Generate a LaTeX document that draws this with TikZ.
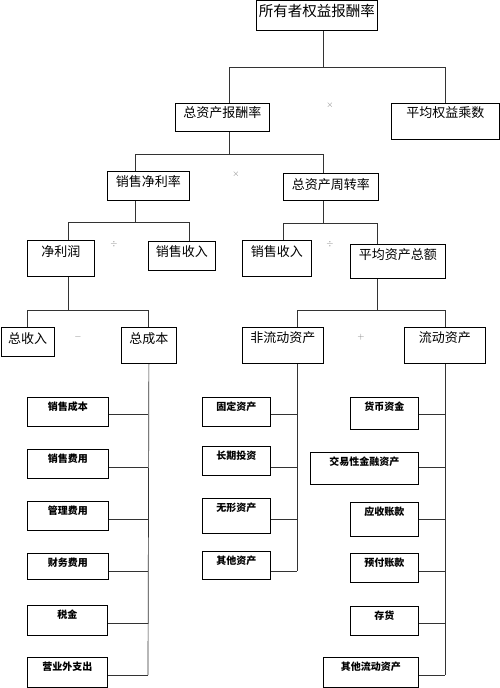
\documentclass[tikz,border=0pt]{standalone}
\usepackage{fontspec}
\setmainfont{Noto Sans CJK SC}
\begin{document}
\begin{tikzpicture}[x=1pt,y=-1pt,
  bx/.style={draw=black, line width=0.8pt, inner sep=0pt, anchor=north west},
  topf/.style={font=\fontsize{14.5}{14.5}\selectfont, text height=16pt},
  big/.style={font=\fontsize{13}{13}\selectfont},
  bigbox/.style n args={3}{bx, big, minimum width=#1, text height=#2, text depth=#3},
  sbox/.style 2 args={bx, font=\bfseries\fontsize{10}{10}\selectfont, text height=13.3pt, minimum width=#1, text depth=#2},
  ln/.style={draw=black!80, line width=0.7pt},
  op/.style={text=black!50, inner sep=0pt, font=\fontsize{9}{9}\selectfont}]
\useasboundingbox (0,0) rectangle (500,688);
\fill[white] (0,0) rectangle (500,688);

% main boxes
\node[bx, topf, minimum width=121pt, text depth=13.5pt] (A) at (256,0.5) {所有者权益报酬率};
\node[bigbox={94pt}{13.9pt}{14.1pt}] (B) at (175,103) {总资产报酬率};
\node[bigbox={108pt}{13.9pt}{22.1pt}] (C) at (391,103) {平均权益乘数};
\node[bigbox={82pt}{14.9pt}{14.1pt}] (D) at (107,171) {销售净利率};
\node[bigbox={95pt}{15.9pt}{11.1pt}] (E) at (283,173) {总资产周转率};
\node[bigbox={67pt}{15.9pt}{20.1pt}] (F) at (27,240) {净利润};
\node[bigbox={67pt}{14.9pt}{14.1pt}] (G) at (148,241) {销售收入};
\node[bigbox={69pt}{15.9pt}{20.1pt}] (H) at (242,240) {销售收入};
\node[bigbox={95pt}{14.9pt}{19.1pt}] (I) at (350,244) {平均资产总额};
\node[bigbox={53.5pt}{15.9pt}{13.1pt}] (J) at (0.5,327) {总收入};
\node[bigbox={55pt}{15.9pt}{20.1pt}] (K) at (121,327) {总成本};
\node[bigbox={81pt}{15.4pt}{20.6pt}] (L) at (242,327) {非流动资产};
\node[bigbox={81pt}{15.4pt}{20.6pt}] (M) at (404,327) {流动资产};

% operators
\node[op] (o1) at (330,105) {$\times$};
\node[op] (o2) at (236,174) {$\times$};
\node[op] (o3) at (114,244) {$\div$};
\node[op] (o4) at (330,244) {$\div$};
\node[op] (o5) at (78,337) {$-$};
\node[op] (o6) at (361,337) {$+$};

% tree connectors
\coordinate (jA) at (323,67);
\coordinate (bB) at (229,67);
\coordinate (bC) at (445,67);
\draw[ln] (A.south -| jA) -- (jA);
\draw[ln] (B.north -| bB) |- (bC) -- (C.north -| bC);

\coordinate (jB) at (229,154);
\coordinate (bD) at (135,154);
\coordinate (bE) at (323,154);
\draw[ln] (B.south -| jB) -- (jB);
\draw[ln] (D.north -| bD) |- (bE) -- (E.north -| bE);

\coordinate (jD) at (135,222);
\coordinate (bF) at (68,222);
\coordinate (bG) at (189,222);
\draw[ln] (D.south -| jD) -- (jD);
\draw[ln] (F.north -| bF) |- (bG) -- (G.north -| bG);

\coordinate (jE) at (323,223);
\coordinate (bH) at (283,223);
\coordinate (bI) at (377,223);
\draw[ln] (E.south -| jE) -- (jE);
\draw[ln] (H.north -| bH) |- (bI) -- (I.north -| bI);

\coordinate (jF) at (68,310);
\coordinate (bJ) at (27,310);
\coordinate (bK) at (148,310);
\draw[ln] (F.south -| jF) -- (jF);
\draw[ln] (J.north -| bJ) |- (bK) -- (K.north -| bK);

\coordinate (jI) at (377,310);
\coordinate (bL) at (297,310);
\coordinate (bM) at (445,310);
\draw[ln] (I.south -| jI) -- (jI);
\draw[ln] (L.north -| bL) |- (bM) -- (M.north -| bM);

% left column (cost items)
\node[sbox={81pt}{15.7pt}] (s1) at (27,397) {销售成本};
\node[sbox={81pt}{15.7pt}] (s2) at (27,449) {销售费用};
\node[sbox={81pt}{15.7pt}] (s3) at (27,501) {管理费用};
\node[sbox={81pt}{12.7pt}] (s4) at (27,553) {财务费用};
\node[sbox={80pt}{16.7pt}] (s5) at (27,605) {税金};
\node[sbox={80pt}{16.7pt}] (s6) at (27,657) {营业外支出};

\coordinate (k1) at (148,414);
\coordinate (k2) at (148,467);
\coordinate (k3) at (148,519);
\coordinate (k4) at (148,571);
\coordinate (k5) at (148,623);
\coordinate (k6) at (148,675);
\draw[ln] (K.south) -- (k6);
\foreach \i in {1,...,6} \draw[ln] (s\i.east |- k\i) -- (k\i);

% middle column (non-current assets)
\node[sbox={68pt}{15.7pt}] (m1) at (202,397) {固定资产};
\node[sbox={68pt}{15.7pt}] (m2) at (202,446) {长期投资};
\node[sbox={68pt}{21.7pt}] (m3) at (202,498) {无形资产};
\node[sbox={68pt}{14.7pt}] (m4) at (202,551) {其他资产};

\coordinate (l1) at (297,414);
\coordinate (l2) at (297,467);
\coordinate (l3) at (297,519);
\coordinate (l4) at (297,571);
\draw[ln] (L.south -| l4) -- (l4);
\foreach \i in {1,...,4} \draw[ln] (m\i.east |- l\i) -- (l\i);

% right column (current assets)
\node[sbox={68pt}{18.7pt}] (r1) at (350,397) {货币资金};
\node[sbox={108pt}{18.7pt}] (r2) at (310,452) {交易性金融资产};
\node[sbox={68pt}{20.7pt}] (r3) at (350,502) {应收账款};
\node[sbox={68pt}{15.7pt}] (r4) at (350,553) {预付账款};
\node[sbox={68pt}{15.7pt}] (r5) at (350,606) {存货};
\node[sbox={95pt}{16.7pt}] (r6) at (323,657) {其他流动资产};

\coordinate (n1) at (445,414);
\coordinate (n2) at (445,467);
\coordinate (n3) at (445,519);
\coordinate (n4) at (445,571);
\coordinate (n5) at (445,623);
\coordinate (n6) at (445,675);
\draw[ln] (M.south -| n6) -- (n6);
\foreach \i in {1,...,6} \draw[ln] (r\i.east |- n\i) -- (n\i);
\end{tikzpicture}
\end{document}
